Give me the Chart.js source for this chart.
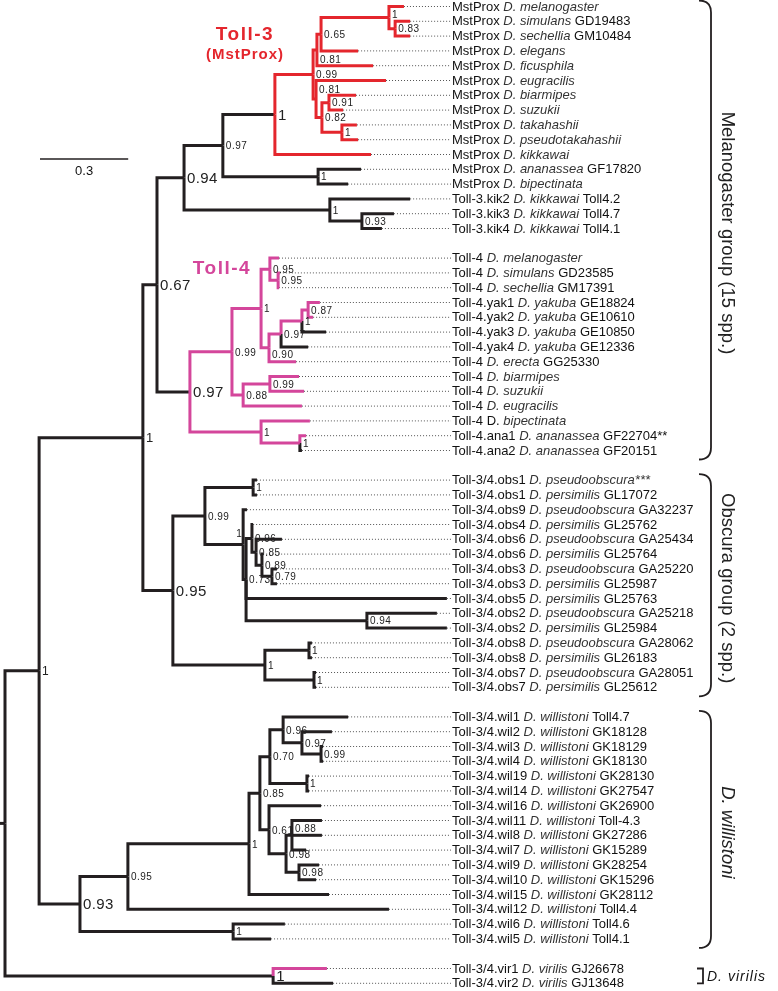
<!DOCTYPE html>
<html>
<head>
<meta charset="utf-8">
<script src="https://cdn.jsdelivr.net/npm/chart.js@4.4.1/dist/chart.umd.min.js"></script>
<style>
  html, body { margin: 0; padding: 0; background: #fff; }
  #wrap { width: 778px; height: 991px; }
</style>
</head>
<body>
<div id="wrap"><canvas id="tree" width="778" height="991"></canvas></div>
<script>
// tips, top to bottom; text between | is italic
const tipLabels = [
  'MstProx |D. melanogaster|', 'MstProx |D. simulans| GD19483', 'MstProx |D. sechellia| GM10484',
  'MstProx |D. elegans|', 'MstProx |D. ficusphila|', 'MstProx |D. eugracilis|', 'MstProx |D. biarmipes|',
  'MstProx |D. suzukii|', 'MstProx |D. takahashii|', 'MstProx |D. pseudotakahashii|', 'MstProx |D. kikkawai|',
  'MstProx |D. ananassea| GF17820', 'MstProx |D. bipectinata|',
  'Toll-3.kik2 |D. kikkawai| Toll4.2', 'Toll-3.kik3 |D. kikkawai| Toll4.7', 'Toll-3.kik4 |D. kikkawai| Toll4.1',
  'Toll-4 |D. melanogaster|', 'Toll-4 |D. simulans| GD23585', 'Toll-4 |D. sechellia| GM17391',
  'Toll-4.yak1 |D. yakuba| GE18824', 'Toll-4.yak2 |D. yakuba| GE10610', 'Toll-4.yak3 |D. yakuba| GE10850',
  'Toll-4.yak4 |D. yakuba| GE12336', 'Toll-4 |D. erecta| GG25330', 'Toll-4 |D. biarmipes|', 'Toll-4 |D. suzukii|',
  'Toll-4 |D. eugracilis|', 'Toll-4 D. |bipectinata|', 'Toll-4.ana1 |D. ananassea| GF22704**',
  'Toll-4.ana2 |D. ananassea| GF20151',
  'Toll-3/4.obs1 |D. pseudoobscura***|', 'Toll-3/4.obs1 |D. persimilis| GL17072',
  'Toll-3/4.obs9 |D. pseudoobscura| GA32237', 'Toll-3/4.obs4 |D. persimilis| GL25762',
  'Toll-3/4.obs6 |D. pseudoobscura| GA25434', 'Toll-3/4.obs6 |D. persimilis| GL25764',
  'Toll-3/4.obs3 |D. pseudoobscura| GA25220', 'Toll-3/4.obs3 |D. persimilis| GL25987',
  'Toll-3/4.obs5 |D. persimilis| GL25763', 'Toll-3/4.obs2 |D. pseudoobscura| GA25218',
  'Toll-3/4.obs2 |D. persimilis| GL25984', 'Toll-3/4.obs8 |D. pseudoobscura| GA28062',
  'Toll-3/4.obs8 |D. persimilis| GL26183', 'Toll-3/4.obs7 |D. pseudoobscura| GA28051',
  'Toll-3/4.obs7 |D. persimilis| GL25612',
  'Toll-3/4.wil1 |D. willistoni| Toll4.7', 'Toll-3/4.wil2 |D. willistoni| GK18128',
  'Toll-3/4.wil3 |D. willistoni| GK18129', 'Toll-3/4.wil4 |D. willistoni| GK18130',
  'Toll-3/4.wil19 |D. willistoni| GK28130', 'Toll-3/4.wil14 |D. willistoni| GK27547',
  'Toll-3/4.wil16 |D. willistoni| GK26900', 'Toll-3/4.wil11 |D. willistoni| Toll-4.3',
  'Toll-3/4.wil8 |D. willistoni| GK27286', 'Toll-3/4.wil7 |D. willistoni| GK15289',
  'Toll-3/4.wil9 |D. willistoni| GK28254', 'Toll-3/4.wil10 |D. willistoni| GK15296',
  'Toll-3/4.wil15 |D. willistoni| GK28112', 'Toll-3/4.wil12 |D. willistoni| Toll4.4',
  'Toll-3/4.wil6 |D. willistoni| Toll4.6', 'Toll-3/4.wil5 |D. willistoni| Toll4.1',
  'Toll-3/4.vir1 |D. virilis| GJ26678', 'Toll-3/4.vir2 |D. virilis| GJ13648'
];

// distance of each tip from the root (substitutions/site)
const tipDepth = [
  1.357, 1.378, 1.378, 1.201, 1.252, 1.296, 1.194, 1.150, 1.197, 1.201, 1.245, 1.211, 1.167, 1.378, 1.323, 1.282,
  0.932, 0.935, 0.932, 1.071, 1.048, 1.092, 1.031, 0.990, 1.000, 1.017, 1.010, 1.037, 1.024, 1.010,
  0.857, 0.857, 0.823, 0.844, 0.942, 0.878, 0.925, 0.925, 1.503, 1.469, 1.503, 1.044, 1.044, 1.058, 1.058,
  1.167, 1.112, 1.082, 1.082, 1.034, 1.034, 1.075, 1.078, 1.078, 1.024, 1.068, 1.058, 1.102, 1.306, 0.952, 0.905,
  1.095, 1.116
];

// a blank row is left before these tips
const groupStarts = [16, 30, 45, 61];

// internal nodes: children (tip index or node id), depth from root, posterior support
const nodeIds = [
  'B', 'A', 'n065', 'n081a', 'n091', 'n1tk', 'n082', 'n081b', 'n099', 'T3', 'anbip', 'n097', 'kik93', 'kik', 'n094',
  't95b', 't95a', 't87', 't1y', 't97y', 't90', 't1', 't99b', 't88', 't99', 'tana', 'tana1', 'T4', 'n067',
  'o1', 'o79', 'o89', 'o85', 'o96', 'o94', 'o73', 'o1big', 'o99', 'o8', 'o7', 'o78', 'OB', 'n1b',
  'w99', 'w97', 'w96', 'w1a', 'w70', 'w98b', 'w88', 'w98a', 'w61', 'w85', 'w1', 'w95', 'w65', 'W', 'n1c',
  'vir', 'root'
];
const nodeKids = [
  [1, 2], [0, 'B'], ['A', 3], ['n065', 4], [6, 7], [8, 9], ['n091', 'n1tk'], [5, 'n082'], ['n081a', 'n081b'],
  ['n099', 10], [11, 12], ['T3', 'anbip'], [14, 15], [13, 'kik93'], ['n097', 'kik'],
  [17, 18], [16, 't95b'], [19, 20], ['t87', 21], ['t1y', 22], ['t97y', 23], ['t95a', 't90'], [24, 25],
  ['t99b', 26], ['t1', 't88'], [28, 29], [27, 'tana'], ['t99', 'tana1'], ['n094', 'T4'],
  [30, 31], [36, 37], [35, 'o79'], [34, 'o89'], [33, 'o85'], [39, 40], ['o96', 38, 'o94'], [32, 'o73'],
  ['o1', 'o1big'], [41, 42], [43, 44], ['o8', 'o7'], ['o99', 'o78'], ['n067', 'OB'],
  [47, 48], [46, 'w99'], [45, 'w97'], [49, 50], ['w96', 'w1a'], [55, 56], [52, 53, 54], ['w88', 'w98b'],
  [51, 'w98a'], ['w70', 'w61'], ['w85', 57], ['w1', 58], [59, 60], ['w95', 'w65'], ['n1b', 'W'],
  [61, 62], ['n1c', 'vir']
];
const nodeDepth = [
  1.327, 1.306, 1.075, 1.061, 1.102, 1.146, 1.078, 1.058, 1.048, 0.918, 1.065, 0.741, 1.214, 1.105, 0.609,
  0.929, 0.901, 1.031, 1.010, 0.939, 0.898, 0.871, 0.901, 0.810, 0.772, 1.003, 0.871, 0.629, 0.517,
  0.844, 0.908, 0.874, 0.854, 0.840, 1.231, 0.820, 0.810, 0.680, 1.034, 1.051, 0.884, 0.571, 0.469,
  1.075, 1.010, 0.946, 1.027, 0.901, 1.000, 0.976, 0.956, 0.898, 0.867, 0.830, 0.418, 0.776, 0.255, 0.116,
  0.912, 0
];
const nodeSupport = [
  0.83, 1, 0.65, 0.81, 0.91, 1, 0.82, 0.81, 0.99, 1, 1, 0.97, 0.93, 1, 0.94,
  0.95, 0.95, 0.87, 1, 0.97, 0.90, 1, 0.99, 0.88, 0.99, 1, 1, 0.97, 0.67,
  1, 0.79, 0.89, 0.85, 0.96, 0.94, 0.73, 1, 0.99, 1, 1, 1, 0.95, 1,
  0.99, 0.97, 0.96, 1, 0.70, 0.98, 0.88, 0.98, 0.61, 0.85, 1, 0.95, 1, 0.93, 1,
  1, null
];

// bracketed groups on the right
const groupNames = ['Melanogaster group (15 spp.)', 'Obscura group (2 spp.)', 'D. willistoni', 'D. virilis'];
const groupFirstTip = [0, 30, 45, 61];
const groupLastTip = [29, 44, 60, 62];

const scaleBarLength = 0.3;

// ---- layout and style ----
const W = 778, H = 991;
const ROW_PX = 14.8, TOP_PX = 6.5, ROOT_PX = 5, UNIT_PX = 294;
const LABEL_PX = 451;
const FONT = '"Liberation Sans", Arimo, Arial, Helvetica, sans-serif';
const colBlack = '#231f20', colRed = '#e4262d', colPink = '#d4469b';
const blackTips = [21, 22, 29];
const pinkTips = [61];
const bigSupport = { T3: 15, n094: 15, n067: 15, T4: 15, OB: 15, W: 15, vir: 15, n1b: 13, n1c: 12 };
const supportShift = { A: [0, -3], n081a: [0, 9], n081b: [0, -10], o1big: [-10, -11], w88: [0, -7], t90: [0, 6] };

function tipRow(i) {
  let r = i;
  groupStarts.forEach(g => { if (i >= g) r++; });
  return r;
}

const nodeIndex = {};
nodeIds.forEach((id, k) => { nodeIndex[id] = k; });
const parentOf = {};
nodeKids.forEach((kids, k) => kids.forEach(c => { parentOf[c] = nodeIds[k]; }));

// node y = middle of its outer children
const pos = {};
function place(id) {
  if (typeof id === 'number') {
    pos[id] = { x: tipDepth[id], y: tipRow(id) };
    return pos[id];
  }
  const k = nodeIndex[id];
  const kids = nodeKids[k].map(place);
  pos[id] = { x: nodeDepth[k], y: (kids[0].y + kids[kids.length - 1].y) / 2 };
  return pos[id];
}
place('root');

function isUnder(id, anc) {
  let p = parentOf[id];
  while (p !== undefined) {
    if (p === anc) return true;
    p = parentOf[p];
  }
  return false;
}

function branchColor(id) {
  if (blackTips.includes(id)) return colBlack;
  if (pinkTips.includes(id)) return colPink;
  if (isUnder(id, 'T3')) return colRed;
  if (isUnder(id, 'T4')) return colPink;
  return colBlack;
}

const labelX = (LABEL_PX - ROOT_PX) / UNIT_PX;
const datasets = [];

// branches: elbow from parent node down/up to child, then across
nodeIds.forEach((id, k) => {
  const n = pos[id];
  nodeKids[k].forEach(c => {
    const q = pos[c];
    const col = branchColor(c);
    datasets.push({
      data: [{ x: n.x, y: n.y }, { x: n.x, y: q.y }, { x: q.x, y: q.y }],
      borderColor: col,
      borderWidth: 3,
      order: col === colBlack ? 1 : 0
    });
  });
});

// little stub left of the root
datasets.push({
  data: [{ x: -ROOT_PX / UNIT_PX, y: pos.root.y }, { x: 0, y: pos.root.y }],
  borderColor: colBlack, borderWidth: 3, order: 1
});

// dotted leaders to the tip names
tipDepth.forEach((d, i) => {
  datasets.push({
    data: [{ x: d, y: tipRow(i) }, { x: labelX, y: tipRow(i) }],
    borderColor: '#555', borderWidth: 1, borderDash: [1, 2], order: 2
  });
});

// scale bar
const barX = (40 - ROOT_PX) / UNIT_PX;
const barRow = (159 - TOP_PX) / ROW_PX;
datasets.push({
  data: [{ x: barX, y: barRow }, { x: barX + scaleBarLength, y: barRow }],
  borderColor: colBlack, borderWidth: 1.5, order: 1
});

function drawRich(ctx, text, x, y, size) {
  const parts = text.split('|');
  let cx = x;
  parts.forEach((p, i) => {
    if (!p) return;
    ctx.font = (i % 2 ? 'italic ' : '') + size + 'px ' + FONT;
    ctx.fillStyle = i % 2 ? '#333' : '#111';
    ctx.fillText(p, cx, y);
    cx += ctx.measureText(p).width;
  });
}

const treeText = {
  id: 'treeText',
  afterDatasetsDraw(chart) {
    const { ctx } = chart;
    const xs = chart.scales.x, ys = chart.scales.y;
    ctx.save();
    ctx.textBaseline = 'middle';
    ctx.textAlign = 'left';

    // tip names
    tipLabels.forEach((t, i) => {
      drawRich(ctx, t, xs.getPixelForValue(labelX) + 1, ys.getPixelForValue(tipRow(i)) + 0.5, 13);
    });

    // support values
    nodeIds.forEach((id, k) => {
      const v = nodeSupport[k];
      if (v === null) return;
      const size = bigSupport[id] || 10;
      const sh = supportShift[id] || [0, 0];
      ctx.font = size + 'px ' + FONT;
      ctx.fillStyle = '#222';
      ctx.letterSpacing = size > 12 ? '0.4px' : '0.5px';
      const txt = v === 1 ? '1' : v.toFixed(2);
      ctx.fillText(txt, xs.getPixelForValue(pos[id].x) + 3 + sh[0], ys.getPixelForValue(pos[id].y) + 1 + sh[1]);
    });
    ctx.letterSpacing = '0px';

    // clade titles
    ctx.textAlign = 'center';
    ctx.textBaseline = 'alphabetic';
    ctx.letterSpacing = '1.5px';
    ctx.fillStyle = colRed;
    ctx.font = 'bold 19px ' + FONT;
    ctx.fillText('Toll-3', 245, 40);
    ctx.letterSpacing = '1px';
    ctx.font = 'bold 15px ' + FONT;
    ctx.fillText('(MstProx)', 245, 59);
    ctx.letterSpacing = '1.5px';
    ctx.fillStyle = colPink;
    ctx.font = 'bold 19px ' + FONT;
    ctx.fillText('Toll-4', 222, 274);
    ctx.letterSpacing = '0px';

    // scale bar label
    ctx.fillStyle = '#111';
    ctx.font = '13px ' + FONT;
    ctx.textBaseline = 'middle';
    ctx.fillText(String(scaleBarLength), xs.getPixelForValue(barX + scaleBarLength / 2), ys.getPixelForValue(barRow) + 12);

    // group brackets
    ctx.strokeStyle = colBlack;
    ctx.lineWidth = 1.8;
    groupNames.forEach((name, g) => {
      const y0 = ys.getPixelForValue(tipRow(groupFirstTip[g]));
      const y1 = ys.getPixelForValue(tipRow(groupLastTip[g]));
      if (g === groupNames.length - 1) {
        ctx.beginPath();
        ctx.moveTo(697, y0);
        ctx.lineTo(703, y0);
        ctx.lineTo(703, y1);
        ctx.lineTo(697, y1);
        ctx.stroke();
        ctx.textAlign = 'left';
        ctx.textBaseline = 'middle';
        ctx.font = 'italic 14px ' + FONT;
        ctx.letterSpacing = '1px';
        ctx.fillText(name, 707, (y0 + y1) / 2 + 1);
        ctx.letterSpacing = '0px';
        return;
      }
      const top = y0 - 6, bot = y1 + 9, xl = 699, xr = 711, r = 12;
      ctx.beginPath();
      ctx.moveTo(xl, top);
      ctx.quadraticCurveTo(xr, top, xr, top + r);
      ctx.lineTo(xr, bot - r);
      ctx.quadraticCurveTo(xr, bot, xl, bot);
      ctx.stroke();
      ctx.save();
      ctx.translate(727, (top + bot) / 2 + 3);
      ctx.rotate(Math.PI / 2);
      ctx.textAlign = 'center';
      ctx.textBaseline = 'middle';
      ctx.font = (g === 2 ? 'italic ' : '') + '18.5px ' + FONT;
      ctx.fillStyle = '#222';
      ctx.fillText(name, 0, 0);
      ctx.restore();
    });
    ctx.restore();
  }
};

new Chart(document.getElementById('tree'), {
  type: 'scatter',
  data: { datasets },
  options: {
    responsive: false,
    devicePixelRatio: 1,
    animation: false,
    showLine: true,
    layout: { padding: 0 },
    elements: {
      point: { radius: 0, hoverRadius: 0 },
      line: { tension: 0, fill: false, borderJoinStyle: 'miter', borderCapStyle: 'butt' }
    },
    scales: {
      x: { type: 'linear', display: false, min: -ROOT_PX / UNIT_PX, max: (W - ROOT_PX) / UNIT_PX },
      y: { type: 'linear', display: false, reverse: true, min: -TOP_PX / ROW_PX, max: (H - TOP_PX) / ROW_PX }
    },
    plugins: { legend: { display: false }, tooltip: { enabled: false } }
  },
  plugins: [treeText]
});
</script>
</body>
</html>
